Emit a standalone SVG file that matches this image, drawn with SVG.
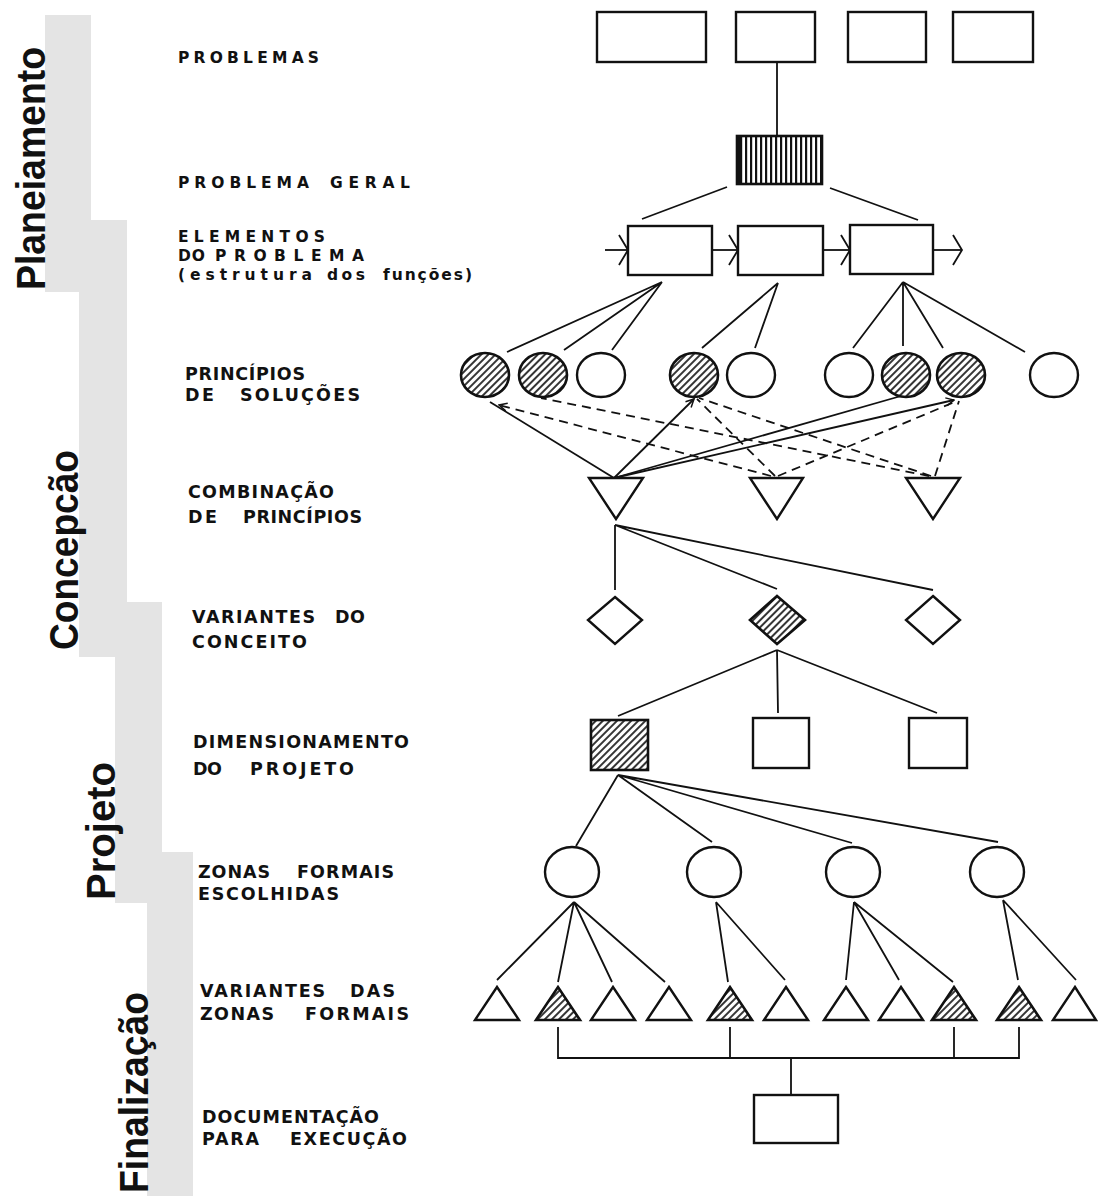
<svg xmlns="http://www.w3.org/2000/svg" width="1099" height="1196" viewBox="0 0 1099 1196">
<defs>
<style>
.bar{fill:#e4e4e4;stroke:none}
.ph{font-family:"Liberation Sans",Arial,sans-serif;font-weight:bold;font-size:40px;fill:#111}
.lbl{font-family:"DejaVu Sans","Liberation Sans",sans-serif;font-weight:bold;font-size:17.5px;fill:#111}
.sm{font-size:15.5px}
.nd{fill:#fff;stroke:#111;stroke-width:2.4}
.hz{fill:url(#hatch);stroke:#111;stroke-width:2.6}
.ln{fill:none;stroke:#111;stroke-width:1.8}
.dash{fill:none;stroke:#111;stroke-width:1.8;stroke-dasharray:9 6}
</style>
<pattern id="hatch" width="5" height="5" patternUnits="userSpaceOnUse" patternTransform="rotate(45)">
<rect width="5" height="5" fill="#fff"/>
<line x1="1" y1="0" x2="1" y2="5" stroke="#111" stroke-width="1.7"/>
</pattern>
<pattern id="vstripe" width="5" height="5" patternUnits="userSpaceOnUse">
<rect width="5" height="5" fill="#fff"/>
<rect x="0" width="2.2" height="5" fill="#111"/>
</pattern>
<marker id="chev" viewBox="0 0 12 32" refX="10" refY="16" markerWidth="12" markerHeight="32" markerUnits="userSpaceOnUse" orient="auto">
<path d="M1,1 L10,16 L1,31" fill="none" stroke="#111" stroke-width="1.8"/>
</marker>
<marker id="arrS" viewBox="0 0 10 10" refX="9" refY="5" markerWidth="10" markerHeight="10" markerUnits="userSpaceOnUse" orient="auto">
<path d="M1,1 L9,5 L1,9" fill="none" stroke="#111" stroke-width="1.5"/>
</marker>
</defs>
<rect width="1099" height="1196" fill="#fff"/>

<g id="phases">
<rect class="bar" x="45" y="15" width="46" height="277"/>
<rect class="bar" x="79" y="220" width="48" height="437"/>
<rect class="bar" x="115" y="602" width="47" height="301"/>
<rect class="bar" x="147" y="852" width="46" height="344"/>
<text class="ph" transform="translate(45,290) rotate(-90)" textLength="243" lengthAdjust="spacingAndGlyphs">Planeiamento</text>
<text class="ph" transform="translate(78,650) rotate(-90)" textLength="200" lengthAdjust="spacingAndGlyphs">Concepcão</text>
<text class="ph" transform="translate(115,900) rotate(-90)" textLength="138" lengthAdjust="spacingAndGlyphs">Projeto</text>
<text class="ph" transform="translate(148,1193) rotate(-90)" textLength="201" lengthAdjust="spacingAndGlyphs">Finalização</text>
</g>

<g id="labels">
<text class="lbl sm" x="178" y="63" textLength="141" lengthAdjust="spacing">PROBLEMAS</text>
<text class="lbl sm" y="188"><tspan x="178" textLength="131" lengthAdjust="spacing">PROBLEMA</tspan> <tspan x="330" textLength="80" lengthAdjust="spacing">GERAL</tspan></text>
<text class="lbl sm" x="178" y="242" textLength="147" lengthAdjust="spacing">ELEMENTOS</text>
<text class="lbl sm" y="261"><tspan x="178" textLength="27" lengthAdjust="spacing">DO</tspan> <tspan x="215" textLength="149" lengthAdjust="spacing">PROBLEMA</tspan></text>
<text class="lbl sm" y="280"><tspan x="178" textLength="134" lengthAdjust="spacing">(estrutura</tspan> <tspan x="327" textLength="38" lengthAdjust="spacing">dos</tspan> <tspan x="383" textLength="89" lengthAdjust="spacing">funções)</tspan></text>
<text class="lbl" x="185" y="380" textLength="120" lengthAdjust="spacing">PRINCÍPIOS</text>
<text class="lbl" y="401"><tspan x="185" textLength="29" lengthAdjust="spacing">DE</tspan> <tspan x="240" textLength="120" lengthAdjust="spacing">SOLUÇÕES</tspan></text>
<text class="lbl" x="188" y="498" textLength="146" lengthAdjust="spacing">COMBINAÇÃO</text>
<text class="lbl" y="523"><tspan x="188" textLength="29" lengthAdjust="spacing">DE</tspan> <tspan x="243" textLength="119" lengthAdjust="spacing">PRINCÍPIOS</tspan></text>
<text class="lbl" y="623"><tspan x="192" textLength="123" lengthAdjust="spacing">VARIANTES</tspan> <tspan x="335" textLength="30" lengthAdjust="spacing">DO</tspan></text>
<text class="lbl" x="192" y="648" textLength="115" lengthAdjust="spacing">CONCEITO</text>
<text class="lbl" x="193" y="748" textLength="216" lengthAdjust="spacing">DIMENSIONAMENTO</text>
<text class="lbl" y="775"><tspan x="193" textLength="29" lengthAdjust="spacing">DO</tspan> <tspan x="250" textLength="104" lengthAdjust="spacing">PROJETO</tspan></text>
<text class="lbl" y="878"><tspan x="198" textLength="72" lengthAdjust="spacing">ZONAS</tspan> <tspan x="297" textLength="97" lengthAdjust="spacing">FORMAIS</tspan></text>
<text class="lbl" x="198" y="900" textLength="141" lengthAdjust="spacing">ESCOLHIDAS</text>
<text class="lbl" y="997"><tspan x="200" textLength="125" lengthAdjust="spacing">VARIANTES</tspan> <tspan x="350" textLength="45" lengthAdjust="spacing">DAS</tspan></text>
<text class="lbl" y="1020"><tspan x="200" textLength="74" lengthAdjust="spacing">ZONAS</tspan> <tspan x="305" textLength="104" lengthAdjust="spacing">FORMAIS</tspan></text>
<text class="lbl" x="202" y="1123" textLength="177" lengthAdjust="spacing">DOCUMENTAÇÃO</text>
<text class="lbl" y="1145"><tspan x="202" textLength="57" lengthAdjust="spacing">PARA</tspan> <tspan x="290" textLength="117" lengthAdjust="spacing">EXECUÇÃO</tspan></text>
</g>

<g id="connectors">
<line class="ln" x1="777" y1="62" x2="777" y2="136"/>
<line class="ln" x1="727" y1="187" x2="642" y2="219"/>
<line class="ln" x1="830" y1="188" x2="918" y2="220"/>
<line class="ln" x1="605" y1="250" x2="628" y2="250" marker-end="url(#chev)"/>
<line class="ln" x1="712" y1="250" x2="738" y2="250" marker-end="url(#chev)"/>
<line class="ln" x1="823" y1="250" x2="850" y2="250" marker-end="url(#chev)"/>
<line class="ln" x1="933" y1="250" x2="962" y2="250" marker-end="url(#chev)"/>
<path class="ln" d="M662,282 L507,352 M662,282 L564,350 M662,282 L612,350"/>
<path class="ln" d="M778,283 L702,348 M778,283 L755,348"/>
<path class="ln" d="M903,282 L853,348 M903,282 L903,346 M903,282 L943,348 M903,282 L1025,352"/>
<line class="ln" x1="614" y1="478" x2="490" y2="402"/>
<line class="ln" x1="614" y1="478" x2="694" y2="399" marker-end="url(#arrS)"/>
<line class="ln" x1="614" y1="478" x2="901" y2="396"/>
<line class="ln" x1="614" y1="478" x2="954" y2="400" marker-end="url(#arrS)"/>
<line class="dash" x1="771" y1="476" x2="499" y2="405" marker-end="url(#arrS)"/>
<line class="dash" x1="929" y1="476" x2="541" y2="398"/>
<line class="dash" x1="775" y1="476" x2="697" y2="399"/>
<line class="dash" x1="931" y1="476" x2="699" y2="398"/>
<line class="dash" x1="778" y1="476" x2="957" y2="401"/>
<line class="dash" x1="935" y1="476" x2="959" y2="401"/>
<path class="ln" d="M615,525 L615,590 M615,525 L777,589 M615,525 L933,590"/>
<path class="ln" d="M777,650 L618,716 M777,650 L778,713 M777,650 L937,713"/>
<path class="ln" d="M618,775 L576,846 M618,775 L712,842 M618,775 L852,843 M618,775 L998,842"/>
<path class="ln" d="M574,902 L497,980 M574,902 L558,982 M574,902 L612,982 M574,902 L665,982"/>
<path class="ln" d="M716,902 L728,982 M716,902 L785,980"/>
<path class="ln" d="M854,902 L846,980 M854,902 L899,980 M854,902 L953,982"/>
<path class="ln" d="M1003,900 L1018,980 M1003,900 L1076,980"/>
<path class="ln" d="M558,1027 L558,1058 L1019,1058 L1019,1027 M730,1027 L730,1058 M954,1027 L954,1058 M791,1058 L791,1095"/>
</g>

<g id="problemas">
<rect class="nd" x="597" y="12" width="109" height="50"/>
<rect class="nd" x="736" y="12" width="79" height="50"/>
<rect class="nd" x="848" y="12" width="78" height="50"/>
<rect class="nd" x="953" y="12" width="80" height="50"/>
</g>
<g id="problema-geral">
<rect x="737" y="136" width="85" height="48" fill="url(#vstripe)" stroke="#111" stroke-width="2.6"/>
<rect x="738" y="137" width="4" height="46" fill="#111"/>
</g>
<g id="elementos">
<rect class="nd" x="628" y="226" width="84" height="49"/>
<rect class="nd" x="738" y="226" width="85" height="49"/>
<rect class="nd" x="850" y="225" width="83" height="49"/>
</g>
<g id="principios">
<ellipse class="hz" cx="485" cy="375" rx="24" ry="22"/>
<ellipse class="hz" cx="543" cy="375" rx="24" ry="22"/>
<ellipse class="nd" cx="601" cy="375" rx="24" ry="22"/>
<ellipse class="hz" cx="694" cy="375" rx="24" ry="22"/>
<ellipse class="nd" cx="751" cy="375" rx="24" ry="22"/>
<ellipse class="nd" cx="849" cy="375" rx="24" ry="22"/>
<ellipse class="hz" cx="906" cy="375" rx="24" ry="22"/>
<ellipse class="hz" cx="961" cy="375" rx="24" ry="22"/>
<ellipse class="nd" cx="1054" cy="375" rx="24" ry="22"/>
</g>
<g id="combinacao">
<polygon class="nd" points="589,478 643,478 616,519"/>
<polygon class="nd" points="750,478 803,478 777,519"/>
<polygon class="nd" points="906,478 960,478 933,519"/>
</g>
<g id="variantes-conceito">
<polygon class="nd" points="615,597 642,620 615,644 588,620"/>
<polygon class="hz" points="777,596 805,620 777,644 750,620"/>
<polygon class="nd" points="933,596 960,620 933,644 906,620"/>
</g>
<g id="dimensionamento">
<rect class="hz" x="591" y="720" width="57" height="50"/>
<rect class="nd" x="753" y="718" width="56" height="50"/>
<rect class="nd" x="909" y="718" width="58" height="50"/>
</g>
<g id="zonas">
<ellipse class="nd" cx="572" cy="872" rx="27" ry="25"/>
<ellipse class="nd" cx="714" cy="872" rx="27" ry="25"/>
<ellipse class="nd" cx="853" cy="872" rx="27" ry="25"/>
<ellipse class="nd" cx="997" cy="872" rx="27" ry="25"/>
</g>
<g id="variantes-zonas">
<polygon class="nd" points="475,1020 519,1020 497,987"/>
<polygon class="hz" points="536,1020 580,1020 558,987"/>
<polygon class="nd" points="591,1020 635,1020 613,987"/>
<polygon class="nd" points="647,1020 691,1020 669,987"/>
<polygon class="hz" points="708,1020 752,1020 730,987"/>
<polygon class="nd" points="764,1020 808,1020 786,987"/>
<polygon class="nd" points="824,1020 868,1020 846,987"/>
<polygon class="nd" points="879,1020 923,1020 901,987"/>
<polygon class="hz" points="932,1020 976,1020 954,987"/>
<polygon class="hz" points="997,1020 1041,1020 1019,987"/>
<polygon class="nd" points="1053,1020 1096,1020 1075,987"/>
</g>
<g id="documentacao">
<rect class="nd" x="754" y="1095" width="84" height="48"/>
</g>
</svg>
